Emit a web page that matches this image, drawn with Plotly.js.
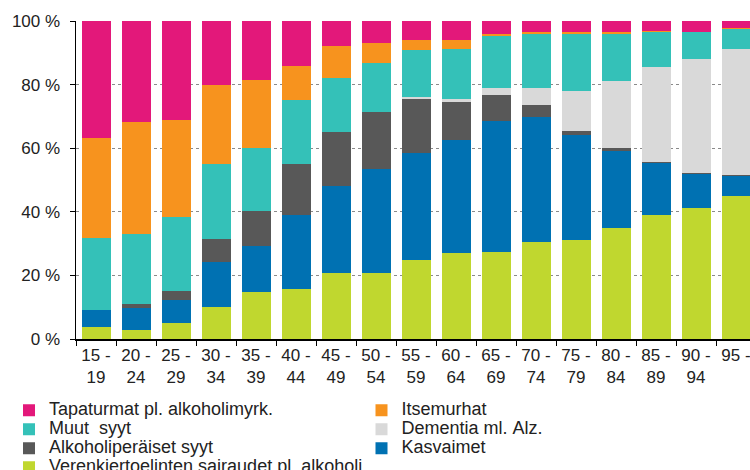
<!DOCTYPE html>
<html>
<head>
<meta charset="utf-8">
<script src="https://cdn.plot.ly/plotly-3.0.1.min.js"></script>
<style>
html,body{margin:0;padding:0;background:#fff;}
#chart{width:750px;height:470px;}
</style>
</head>
<body>
<div id="chart"></div>
<script>
// Age groups (category labels)
const ageGroups = ["15 -<br>19","20 -<br>24","25 -<br>29","30 -<br>34","35 -<br>39","40 -<br>44","45 -<br>49","50 -<br>54","55 -<br>59","60 -<br>64","65 -<br>69","70 -<br>74","75 -<br>79","80 -<br>84","85 -<br>89","90 -<br>94","95 -"];

// Shares of deaths (%) by cause, bottom to top of the stack
const verenkierto   = [3.7, 2.8, 4.9, 10.0, 14.8, 15.8, 20.9, 20.9, 24.9, 26.9, 27.5, 30.4, 31.0, 35.0, 39.1, 41.1, 45.1];
const kasvaimet     = [5.4, 7.1, 7.4, 14.3, 14.4, 23.2, 27.1, 32.7, 33.7, 35.7, 41.2, 39.3, 33.2, 24.2, 16.1, 10.9, 6.3];
const alkoholi      = [0.0, 1.1, 2.8, 7.0, 11.1, 15.9, 17.0, 17.9, 17.0, 11.9, 7.9, 4.0, 1.3, 0.9, 0.4, 0.1, 0.1];
const dementia      = [0.0, 0.0, 0.0, 0.0, 0.0, 0.0, 0.0, 0.0, 0.6, 1.0, 2.3, 5.2, 12.4, 20.9, 29.9, 35.8, 39.7];
const muut          = [22.8, 21.9, 23.3, 23.8, 19.9, 20.4, 17.2, 15.3, 14.7, 15.8, 16.4, 16.9, 17.9, 15.0, 11.0, 8.5, 6.4];
const itsemurhat    = [31.4, 35.3, 30.4, 24.8, 21.2, 10.5, 9.8, 6.2, 3.0, 2.6, 0.7, 0.7, 0.6, 0.5, 0.4, 0.1, 0.1];
const tapaturmat    = [36.7, 31.8, 31.2, 20.1, 18.6, 14.2, 8.0, 7.0, 6.1, 6.1, 4.0, 3.5, 3.6, 3.5, 3.0, 3.5, 2.5];

const seriesNames = ["Verenkiertoelinten sairaudet pl. alkoholi","Kasvaimet","Alkoholiperäiset syyt","Dementia ml. Alz.","Muut  syyt","Itsemurhat","Tapaturmat pl. alkoholimyrk."];
const seriesValues = [verenkierto, kasvaimet, alkoholi, dementia, muut, itsemurhat, tapaturmat];
const seriesColors = ["#C0D72F","#0071B2","#585858","#D9D9D9","#34C1B8","#F7931E","#E3187A"];

// which legend column each series appears in, and its rank there
const legendColumn = ['legend', 'legend2', 'legend', 'legend2', 'legend', 'legend2', 'legend'];
const legendRank   = [4, 3, 3, 2, 2, 1, 1];

const traces = seriesNames.map((n, i) => ({
  type: 'bar',
  x: ageGroups,
  y: seriesValues[i],
  name: '<span style="font-size:18px">' + n.replace(/ /g, '&nbsp;') + '</span>',
  marker: {color: seriesColors[i], line: {width: 0}},
  legend: legendColumn[i],
  legendrank: legendRank[i],
  hoverinfo: 'x+y+name'
}));

const legendBase = {
  orientation: 'v',
  xref: 'container', yref: 'container',
  xanchor: 'left', yanchor: 'top',
  y: 0.158,
  font: {size: 11.2, color: '#222'},
  traceorder: 'normal',
  itemclick: false, itemdoubleclick: false,
  bgcolor: 'rgba(0,0,0,0)'
};

const layout = {
  width: 750, height: 470,
  margin: {l: 76, r: 0, t: 21, b: 131, autoexpand: false},
  paper_bgcolor: '#fff', plot_bgcolor: '#fff',
  barmode: 'stack',
  bargap: 0.275,
  font: {family: 'Liberation Sans, Arial, sans-serif', size: 17, color: '#222'},
  xaxis: {
    type: 'category',
    range: [-0.5, 16.35],
    showline: true, linecolor: '#000', linewidth: 1.5,
    ticks: 'outside', ticklen: 5, tickcolor: '#000', tickwidth: 1,
    tickson: 'boundaries',
    showgrid: false,
    tickangle: 0,
    automargin: false,
    tickfont: {size: 17, color: '#222'},
    fixedrange: true
  },
  yaxis: {
    range: [0, 100],
    tickvals: [0, 20, 40, 60, 80, 100],
    ticktext: ['0 %', '20 %', '40 %', '60 %', '80 %', '100 %'],
    showline: true, linecolor: '#000', linewidth: 1.5,
    ticks: 'outside', ticklen: 5, tickcolor: '#000',
    ticklabelstandoff: 6,
    showgrid: true, gridcolor: '#8a8a8a', gridwidth: 1, griddash: 'dot',
    zeroline: false,
    automargin: false,
    tickfont: {size: 17, color: '#222'},
    fixedrange: true
  },
  showlegend: true,
  legend: Object.assign({}, legendBase, {x: 0.012}),
  legend2: Object.assign({}, legendBase, {x: 0.482})
};

Plotly.newPlot('chart', traces, layout, {displayModeBar: false, staticPlot: true});
</script>
</body>
</html>
